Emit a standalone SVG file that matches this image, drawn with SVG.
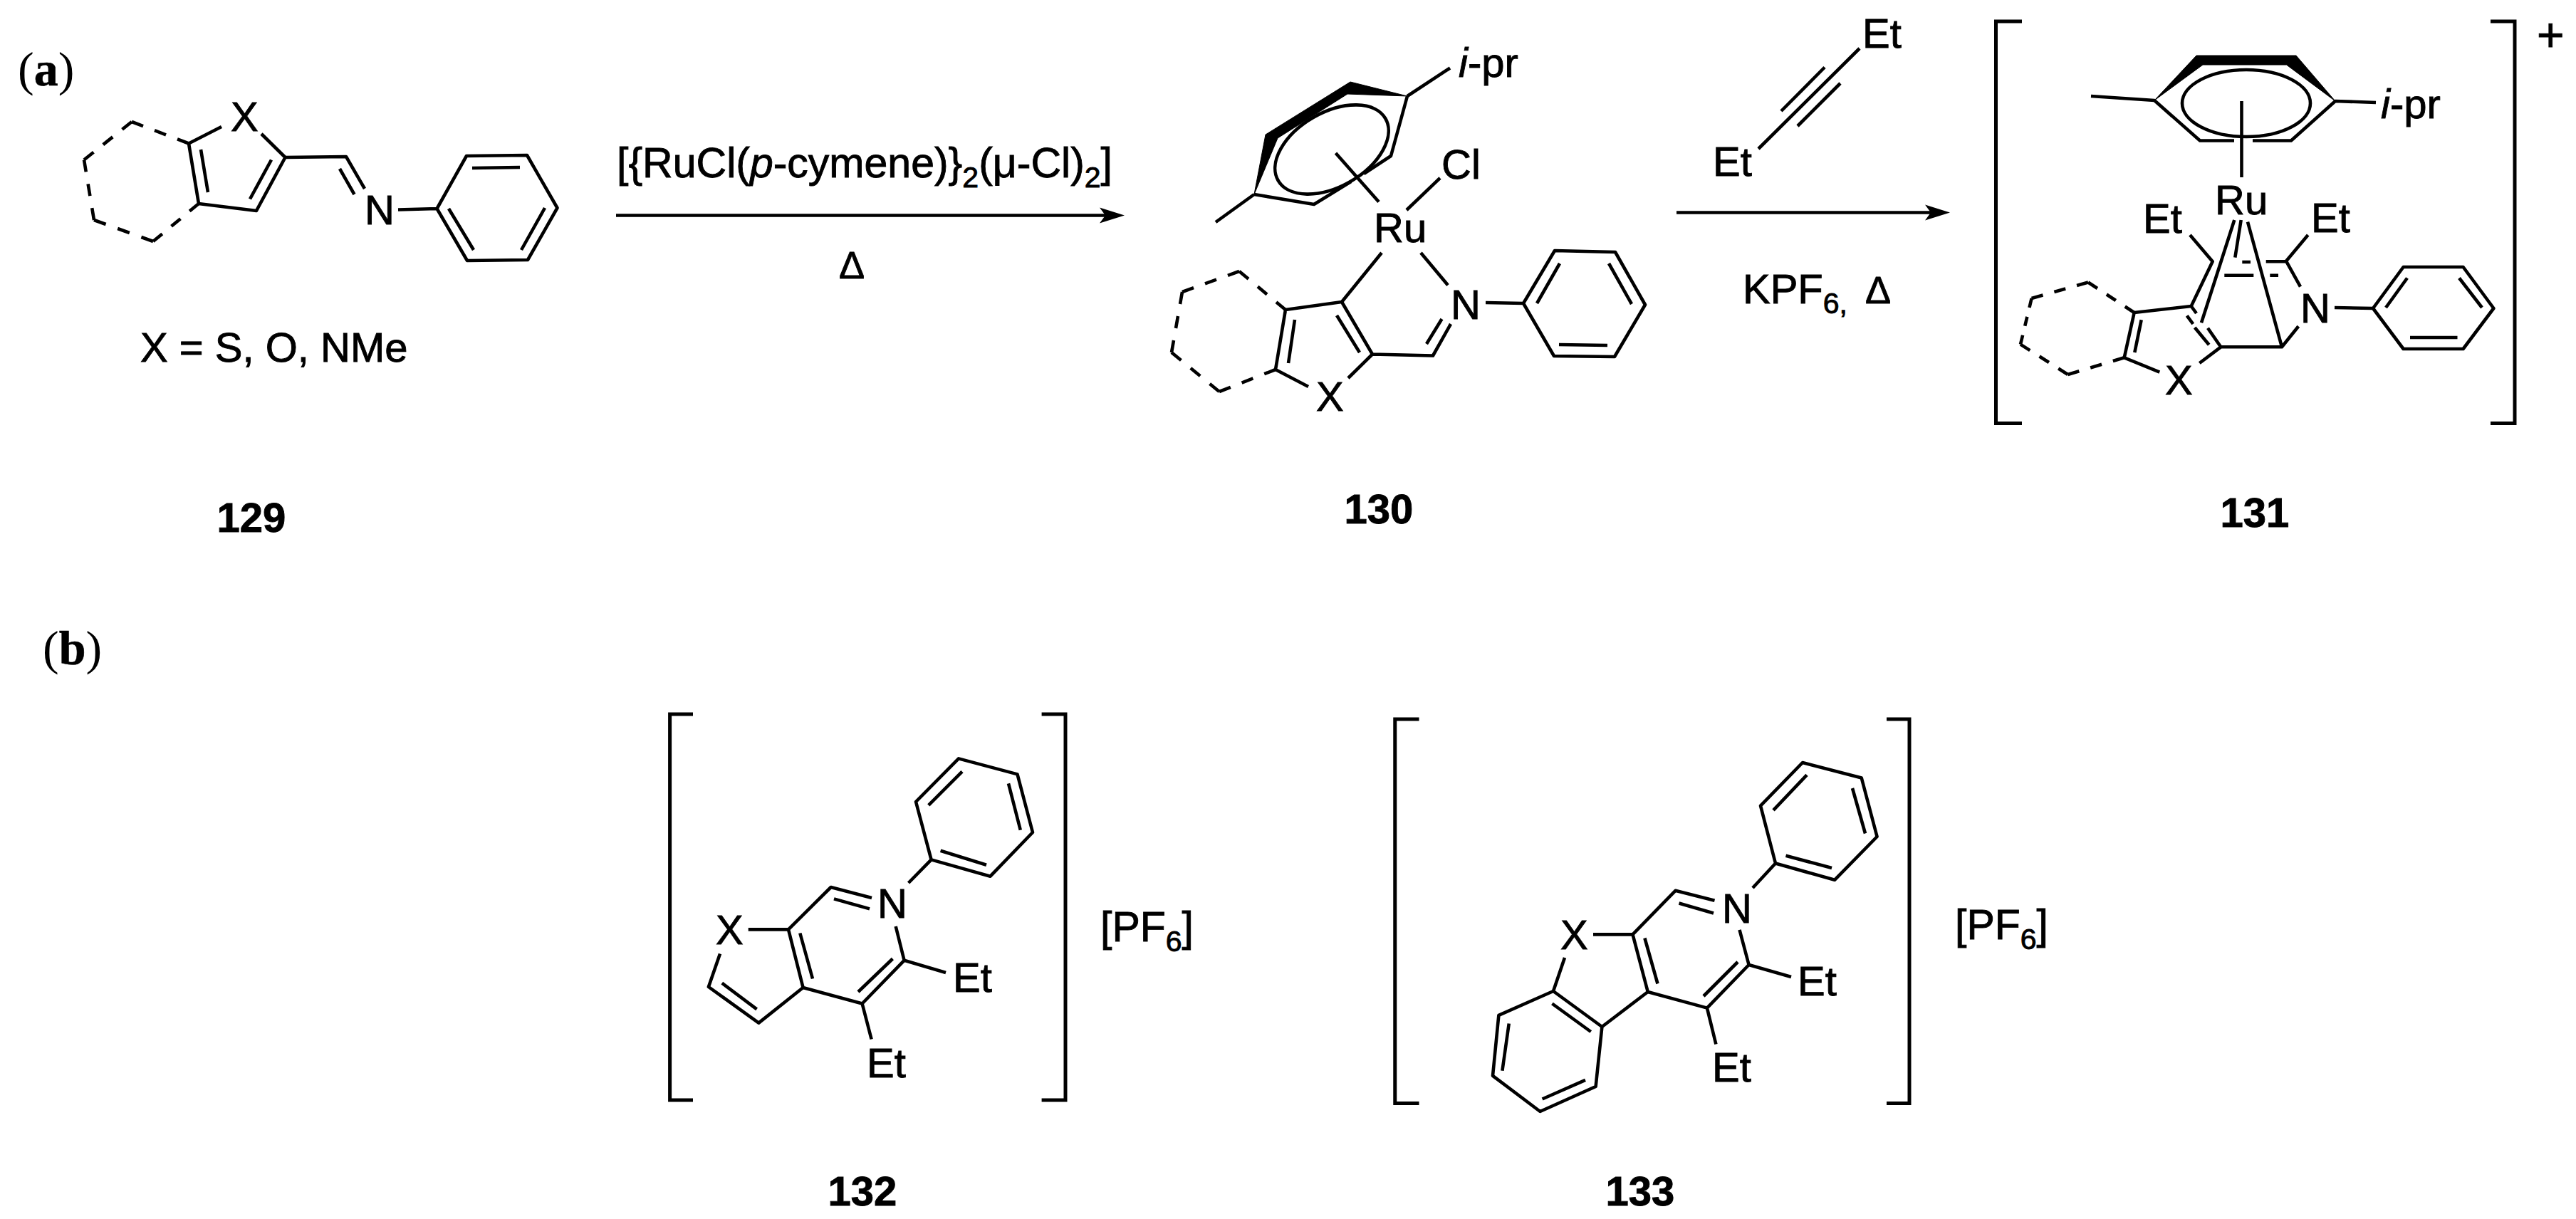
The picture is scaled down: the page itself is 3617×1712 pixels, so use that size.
<svg xmlns="http://www.w3.org/2000/svg" width="3617" height="1712" viewBox="0 0 3617 1712">
<style>
text{font-family:"Liberation Sans",Arial,sans-serif;font-size:58px;fill:#000;stroke:#000;stroke-width:.9}
.n{font-weight:700;text-anchor:middle}
.s{font-family:"Liberation Serif","Times New Roman",serif;font-size:68px;stroke-width:0}
.b{font-weight:700;stroke-width:.6}
.i{font-style:italic}
.u{font-size:41px}
.l{fill:none;stroke:#000;stroke-width:4.6;stroke-linejoin:round}
.d{fill:none;stroke:#000;stroke-width:4.6;stroke-dasharray:1 1}
.w{fill:#000;stroke:#000;stroke-width:1;stroke-linejoin:round}
.k{fill:none;stroke:#000;stroke-width:5}
</style>
<defs>
<marker id="arr" markerUnits="userSpaceOnUse" markerWidth="36" markerHeight="24" refX="8" refY="12" orient="auto"><path d="M0,1 L35,12 L0,23 L8,12 Z" fill="#000"/></marker>
</defs>
<rect width="3617" height="1712" fill="#fff"/>

<g id="label-a"><text class="s" x="25" y="120">(<tspan class="b">a</tspan>)</text></g>
<g id="label-b"><text class="s" x="60" y="933">(<tspan class="b">b</tspan>)</text></g>

<g id="compound-129">
<path class="d" pathLength="5" d="M265,201.5 L185,171"/>
<path class="d" pathLength="5" d="M185,171 L118,224.5"/>
<path class="d" pathLength="5" d="M118,224.5 L132,309"/>
<path class="d" pathLength="5" d="M132,309 L215,339"/>
<path class="d" pathLength="5" d="M215,339 L279,286"/>
<path class="l" d="M311,178 L265,201.5 L279,286 L360,296 L400.5,221 L367,188 M282,210 L292,270 M381,224.5 L351,279.5 M400.5,221 L486,220 L512,265 M477,237 L497.5,273 M559,294.5 L613.5,293 M613.5,293 L655,219 L740,218 L782.5,292 L741,365 L656,366 Z M663,236 L730,235 M765,292 L732,351 M630,293 L665,351"/>
<text x="324" y="184">X</text>
<text x="512" y="315">N</text>
<text x="197" y="508">X = S, O, NMe</text>
<text class="n" x="353" y="747">129</text>
</g>

<g id="compound-130">
<path class="d" pathLength="5" d="M1805,435 L1740,381"/>
<path class="d" pathLength="5" d="M1740,381 L1660,410"/>
<path class="d" pathLength="5" d="M1660,410 L1645,495"/>
<path class="d" pathLength="5" d="M1645,495 L1712,550"/>
<path class="d" pathLength="5" d="M1712,550 L1791,519"/>
<path class="l" d="M1837,543 L1791,519 L1805,435 L1884,424 L1927,497.5 L1893,531 M1818,449 L1809,510 M1877,443 L1909,495 M1927,497.5 L2012,499.5 L2037,455 M2003,483 L2024.5,448 M2086,425 L2139,426 M2139,426 L2183,352 L2268,354 L2310,428 L2267,501 L2182,500 Z M2158,426 L2190,370 M2259,370 L2291,427 M2189,484 L2257,485 M1940,355 L1884,424 M1995,355 L2033,400.5 M2022,250 L1975,295 M1875.5,215 L1936,283.6 M1761,273 L1845,287 L1897,255 M1915,244 L1953,219 L1976,135 M1761,273 L1707,312 M1976,135 L2036,95.5"/>
<path class="w" d="M1761,273 L1777,189 L1896,115 L1976,135 L1892,132 L1794,194 Z"/>
<ellipse class="l" cx="1870" cy="210" rx="87" ry="52" transform="rotate(-30 1870 210)"/>
<text x="1848" y="577">X</text>
<text x="2037" y="448">N</text>
<text x="1929" y="340">Ru</text>
<text x="2024" y="251">Cl</text>
<text x="2048" y="108"><tspan class="i">i</tspan>-pr</text>
<text class="n" x="1936" y="735">130</text>
</g>

<g id="compound-131">
<path class="k" d="M2839,30 L2802.5,30 L2802.5,594.5 L2839,594.5 M3497,30 L3531,30 L3531,594.5 L3497,594.5"/>
<path class="d" pathLength="5" d="M2996.7,439 L2932,396.5"/>
<path class="d" pathLength="5" d="M2932,396.5 L2852.6,419"/>
<path class="d" pathLength="5" d="M2852.6,419 L2837,483.6"/>
<path class="d" pathLength="5" d="M2837,483.6 L2903.5,526"/>
<path class="d" pathLength="5" d="M2903.5,526 L2982.7,502.3"/>
<path class="l" d="M3032.3,522.7 L2982.7,502.3 L2996.7,439 L3076.7,430 L3106.7,367.3 L3075,330 M3006.7,449.3 L2997.3,495 M3076.7,430 L3084,440 M3100,460.7 L3118.3,487.3 L3204,487.3 L3227.3,458.3 M3070.7,443.3 L3079.3,455 M3081.7,460 L3101.7,484.3 M3088.3,510 L3118.3,487.3 M3137.3,309 L3091,453.3 M3156,311.7 L3204,487.3 M3146.7,309 L3138.3,361.7 M3240.7,330 L3210,366.7 L3230,402.7 M3148.3,368 L3160,368 M3181.7,367.3 L3210,367.3 M3123.3,386.7 L3164.3,386.7 M3187.3,386.7 L3199,386.7 M3278,432 L3332,433 M3332,433 L3374.6,375 L3458.6,375 L3501.4,433 L3458.6,490 L3374.6,490 Z M3350,432 L3380,390.5 M3453,390.5 L3485,432 M3384,474 L3450.5,474 M2936,135 L3025,141 L3089,197.5 L3137,197.5 M3163,197.5 L3217,197.5 L3279,142 L3336,144 M3147.5,142 L3147.5,249"/>
<path class="w" d="M3025,141 L3084,78 L3224,78 L3279,142 L3210.5,91 L3093,91 Z"/>
<ellipse class="l" cx="3154" cy="145" rx="90" ry="47"/>
<text x="3040" y="554">X</text>
<text x="3230" y="453">N</text>
<text x="3110" y="301">Ru</text>
<text x="3009" y="327">Et</text>
<text x="3245" y="326">Et</text>
<text x="3343" y="166"><tspan class="i">i</tspan>-pr</text>
<text x="3562" y="72" style="font-size:66px">+</text>
<text class="n" x="3166" y="740">131</text>
</g>

<g id="compound-132">
<path class="k" d="M973,1003 L940.6,1003 L940.6,1545 L973,1545 M1462.6,1003 L1496,1003 L1496,1545 L1462.6,1545"/>
<path class="l" d="M1050.7,1305.4 L1107,1305.4 L1166.7,1246 L1224,1261 M1171,1262.4 L1221,1276.4 M1275.6,1240 L1307.6,1207.4 M1307.6,1207.4 L1286,1126 L1346,1065.4 L1428.5,1087.4 L1450,1169 L1390.5,1230.7 Z M1303.8,1130.8 L1351,1083.6 M1416,1100.4 L1432.8,1165.8 M1385,1214.8 L1320.6,1194.8 M1257.7,1301 L1269.6,1348.8 L1328,1366 M1269.6,1348.8 L1210.6,1409.5 L1223.6,1459.5 M1253.4,1346.5 L1205,1393 M1107,1305.4 L1127.6,1387 L1210.6,1409.5 M1123.3,1310.5 L1141,1374.5 M1127.6,1387 L1065.3,1436.6 L994.9,1386 L1011,1339.5 M1062.6,1417.4 L1013.8,1380.6"/>
<text x="1005" y="1326">X</text>
<text x="1232" y="1289">N</text>
<text x="1338" y="1393">Et</text>
<text x="1217" y="1513">Et</text>
<text x="1545" y="1322" style="font-size:59px">[PF<tspan class="u" dy="14">6</tspan><tspan dy="-14">]</tspan></text>
<text class="n" x="1211" y="1693">132</text>
</g>

<g id="compound-133">
<path class="k" d="M1992.5,1010 L1958.75,1010 L1958.75,1549.5 L1992.5,1549.5 M2649,1010 L2681,1010 L2681,1549.5 L2649,1549.5"/>
<path class="l" d="M2237,1312.4 L2292.5,1312.4 L2352.5,1250.8 L2407.5,1264.8 M2357.5,1268.5 L2406,1282.5 M2461,1247 L2493,1212.5 M2493,1212.5 L2472,1131.7 L2531,1071 L2613.75,1092.5 L2635.6,1175 L2576,1235.8 Z M2490,1137.8 L2537,1088.3 M2601,1107 L2619,1170.5 M2572,1219 L2507.5,1201.8 M2442.5,1305.9 L2455.6,1355 L2515,1372 M2455.6,1355 L2396.9,1415.6 L2409.4,1466.5 M2440,1351 L2392,1399 M2292.5,1312.4 L2313.75,1393 L2396.9,1415.6 M2309.4,1317.5 L2327.5,1381.5 M2313.75,1393 L2249.4,1442 M2197,1345 L2181,1392 L2249.4,1442 L2240.6,1526 L2162.5,1561 L2096,1510.8 L2104.4,1425.8 L2181,1392 M2179.4,1409.5 L2233.75,1449 M2226,1516.9 L2165.6,1543.5 M2109.4,1503.8 L2118.75,1437.5"/>
<text x="2191" y="1333">X</text>
<text x="2418" y="1296">N</text>
<text x="2524" y="1398">Et</text>
<text x="2404" y="1519">Et</text>
<text x="2745" y="1319" style="font-size:59px">[PF<tspan class="u" dy="14">6</tspan><tspan dy="-14">]</tspan></text>
<text class="n" x="2303" y="1693">133</text>
</g>

<g id="reagent-1">
<text x="866" y="249" style="font-size:59px">[{RuCl(<tspan class="i">p</tspan>-cymene)}<tspan class="u" dy="14">2</tspan><tspan dy="-14">(μ-Cl)</tspan><tspan class="u" dy="14">2</tspan><tspan dy="-14">]</tspan></text>
<text x="1178" y="391" style="font-size:54px">Δ</text>
</g>

<g id="reagent-2">
<path class="l" d="M2611,68 L2469,209 M2562,94.5 L2501,156 M2584,117 L2524,177"/>
<text x="2615" y="67">Et</text>
<text x="2405" y="247">Et</text>
<text x="2447" y="426">KPF<tspan class="u" dy="14">6,</tspan></text>
<text x="2619" y="426" style="font-size:54px">Δ</text>
</g>

<g id="connectors">
<path class="l" marker-end="url(#arr)" d="M865,302.5 L1552,302.5"/>
<path class="l" marker-end="url(#arr)" d="M2354,298.5 L2711,298.5"/>
</g>
</svg>
